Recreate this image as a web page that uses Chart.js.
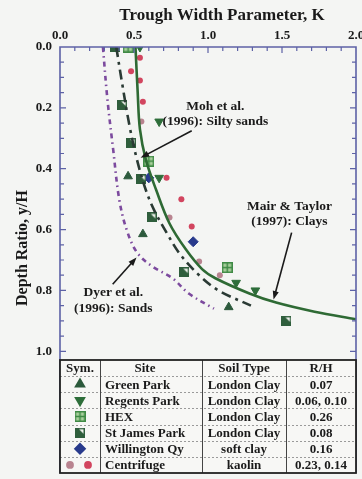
<!DOCTYPE html>
<html>
<head>
<meta charset="utf-8">
<script src="https://cdn.jsdelivr.net/npm/chart.js@4.4.1/dist/chart.umd.min.js"></script>
<style>
  html, body { margin: 0; padding: 0; background: #f4f5f3; }
  #wrap { width: 362px; height: 479px; }
</style>
</head>
<body>
<div id="wrap"><canvas id="myChart" width="362" height="479"></canvas></div>
<script>
// tick labels
const xTickLabels = ['0.0', '0.5', '1.0', '1.5', '2.0'];
const yTickLabels = ['0.0', '0.2', '0.4', '0.6', '0.8', '1.0'];

// curves: K and y/H
const mairK = [0.51, 0.525, 0.54, 0.58, 0.65, 0.74, 0.85, 0.96, 1.05, 1.28, 1.46, 1.72, 2.0];
const mairY = [0, 0.15, 0.27, 0.37, 0.47, 0.58, 0.665, 0.73, 0.76, 0.81, 0.84, 0.87, 0.895];
const mohK = [0.38, 0.42, 0.47, 0.52, 0.58, 0.64, 0.72, 0.81, 0.94, 1.07, 1.29];
const mohY = [0, 0.12, 0.26, 0.37, 0.47, 0.54, 0.61, 0.68, 0.75, 0.80, 0.85];
const dyerK = [0.29, 0.32, 0.36, 0.40, 0.45, 0.52, 0.62, 0.76, 0.87, 1.04];
const dyerY = [0, 0.17, 0.34, 0.50, 0.60, 0.675, 0.72, 0.76, 0.81, 0.86];

// field / centrifuge data
const greenParkK = [0.46, 0.56, 1.14];
const greenParkY = [0.425, 0.615, 0.855];
const regentsK = [0.54, 0.67, 0.67, 1.19, 1.32];
const regentsY = [0, 0.245, 0.43, 0.775, 0.80];
const hexK = [0.46, 0.60, 1.13];
const hexY = [0, 0.375, 0.725];
const stJamesK = [0.37, 0.42, 0.48, 0.55, 0.62, 0.84, 1.53];
const stJamesY = [0, 0.19, 0.315, 0.435, 0.56, 0.74, 0.90];
const willingtonK = [0.60, 0.90];
const willingtonY = [0.43, 0.64];
const centriAK = [0.54, 0.48, 0.54, 0.56, 0.72, 0.82, 0.89];
const centriAY = [0.035, 0.08, 0.11, 0.18, 0.43, 0.50, 0.59];
const centriBK = [0.55, 0.58, 0.74, 0.94, 1.08];
const centriBY = [0.245, 0.36, 0.56, 0.705, 0.75];

// table
const siteNames = ['Green Park', 'Regents Park', 'HEX', 'St James Park', 'Willington Qy', 'Centrifuge'];
const soilTypes = ['London Clay', 'London Clay', 'London Clay', 'London Clay', 'soft clay', 'kaolin'];
const rhValues = ['0.07', '0.06, 0.10', '0.26', '0.08', '0.16', '0.23, 0.14'];

const pts = (xs, ys) => xs.map((x, i) => ({x: x, y: ys[i]}));

function hexMarker() {
  const c = document.createElement('canvas');
  c.width = 11; c.height = 11;
  const g = c.getContext('2d');
  g.fillStyle = '#a9cf9c';
  g.fillRect(0, 0, 11, 11);
  g.strokeStyle = '#3f8a45';
  g.lineWidth = 1.5;
  g.strokeRect(0.75, 0.75, 9.5, 9.5);
  g.beginPath();
  g.moveTo(5.5, 1); g.lineTo(5.5, 10);
  g.moveTo(1, 5.5); g.lineTo(10, 5.5);
  g.stroke();
  return c;
}
function stJamesMarker() {
  const c = document.createElement('canvas');
  c.width = 10; c.height = 10;
  const g = c.getContext('2d');
  g.fillStyle = '#2f5e3c';
  g.fillRect(0, 0, 10, 10);
  g.fillStyle = '#f2f4ef';
  g.beginPath();
  g.moveTo(4, 1.5); g.lineTo(8.5, 1.5); g.lineTo(8.5, 6);
  g.closePath();
  g.fill();
  return c;
}
const hexImg = hexMarker();
const stJamesImg = stJamesMarker();

const serif = '"Liberation Serif", "DejaVu Serif", serif';

// frame, inward ticks, labels, arrows, table
const decor = {
  id: 'decor',
  beforeDraw(chart) {
    const ctx = chart.ctx;
    ctx.save();
    ctx.fillStyle = '#f4f5f3';
    ctx.fillRect(0, 0, chart.width, chart.height);
    ctx.restore();
  },
  afterDraw(chart) {
    const ctx = chart.ctx;
    const a = chart.chartArea;
    const xs = chart.scales.x, ys = chart.scales.y;
    ctx.save();

    // inward ticks
    ctx.strokeStyle = '#5d62a6';
    ctx.lineWidth = 1.2;
    ctx.beginPath();
    for (let i = 1; i < 28; i++) {
      const py = ys.getPixelForValue(i * 0.05);
      const len = (i % 4 === 0) ? 6 : 4;
      ctx.moveTo(a.left, py); ctx.lineTo(a.left + len, py);
      ctx.moveTo(a.right, py); ctx.lineTo(a.right - len, py);
    }
    for (let i = 1; i < 20; i++) {
      const px = xs.getPixelForValue(i * 0.1);
      const len = (i % 5 === 0) ? 6 : 4;
      ctx.moveTo(px, a.top); ctx.lineTo(px, a.top + len);
    }
    ctx.stroke();

    // frame
    ctx.lineWidth = 1.6;
    ctx.beginPath();
    ctx.moveTo(a.left, a.bottom); ctx.lineTo(a.left, a.top);
    ctx.lineTo(a.right, a.top); ctx.lineTo(a.right, a.bottom);
    ctx.stroke();

    // titles
    ctx.fillStyle = '#1a1a1a';
    ctx.font = 'bold 17px ' + serif;
    ctx.textAlign = 'center';
    ctx.textBaseline = 'middle';
    ctx.fillText('Trough Width Parameter, K', 222, 16);
    ctx.save();
    ctx.translate(23, 248);
    ctx.rotate(-Math.PI / 2);
    ctx.font = 'bold 16px ' + serif;
    ctx.fillText('Depth Ratio, y/H', 0, 0);
    ctx.restore();

    // annotations
    const P = (k, y) => [xs.getPixelForValue(k), ys.getPixelForValue(y)];
    ctx.font = 'bold 13.5px ' + serif;
    let p = P(1.05, 0.197); ctx.fillText('Moh et al.', p[0], p[1]);
    p = P(1.05, 0.246); ctx.fillText('(1996): Silty sands', p[0], p[1]);
    p = P(1.55, 0.525); ctx.fillText('Mair & Taylor', p[0], p[1]);
    p = P(1.55, 0.574); ctx.fillText('(1997): Clays', p[0], p[1]);
    p = P(0.36, 0.807); ctx.fillText('Dyer et al.', p[0], p[1]);
    p = P(0.36, 0.859); ctx.fillText('(1996): Sands', p[0], p[1]);

    function arrow(k1, y1, k2, y2) {
      const s = P(k1, y1), e = P(k2, y2);
      const ang = Math.atan2(e[1] - s[1], e[0] - s[0]);
      ctx.strokeStyle = '#1a1a1a';
      ctx.lineWidth = 1.6;
      ctx.beginPath();
      ctx.moveTo(s[0], s[1]);
      ctx.lineTo(e[0] - 5 * Math.cos(ang), e[1] - 5 * Math.sin(ang));
      ctx.stroke();
      ctx.fillStyle = '#1a1a1a';
      ctx.beginPath();
      ctx.moveTo(e[0], e[1]);
      ctx.lineTo(e[0] - 9 * Math.cos(ang - 0.35), e[1] - 9 * Math.sin(ang - 0.35));
      ctx.lineTo(e[0] - 9 * Math.cos(ang + 0.35), e[1] - 9 * Math.sin(ang + 0.35));
      ctx.closePath();
      ctx.fill();
    }
    arrow(0.89, 0.275, 0.545, 0.364);
    arrow(1.565, 0.61, 1.443, 0.83);
    arrow(0.356, 0.78, 0.517, 0.692);

    // table
    const top = a.bottom - 113;
    const rowH = (a.bottom - top) / 7;
    const cols = [a.left, 100, 202, 286, a.right];
    ctx.fillStyle = '#f7f7f5';
    ctx.fillRect(a.left, top, a.right - a.left, a.bottom - top);
    ctx.strokeStyle = '#9a9a9a';
    ctx.lineWidth = 1;
    ctx.setLineDash([2, 2]);
    ctx.beginPath();
    for (let r = 1; r < 7; r++) {
      const yy = Math.round(top + r * rowH) + 0.5;
      ctx.moveTo(a.left, yy); ctx.lineTo(a.right, yy);
    }
    ctx.stroke();
    ctx.setLineDash([]);
    ctx.strokeStyle = '#444';
    ctx.lineWidth = 1;
    ctx.beginPath();
    for (let c = 1; c < 4; c++) {
      ctx.moveTo(cols[c] + 0.5, top); ctx.lineTo(cols[c] + 0.5, a.bottom);
    }
    ctx.stroke();
    ctx.strokeStyle = '#222';
    ctx.lineWidth = 1.8;
    ctx.strokeRect(a.left, top, a.right - a.left, a.bottom - top);

    ctx.fillStyle = '#1a1a1a';
    ctx.font = 'bold 13px ' + serif;
    const hy = top + rowH / 2 + 1;
    ctx.textAlign = 'center';
    ctx.fillText('Sym.', (cols[0] + cols[1]) / 2, hy);
    ctx.fillText('Site', 145, hy);
    ctx.fillText('Soil Type', (cols[2] + cols[3]) / 2, hy);
    ctx.fillText('R/H', (cols[3] + cols[4]) / 2, hy);
    for (let r = 0; r < siteNames.length; r++) {
      const yy = top + (r + 1.5) * rowH + 1;
      ctx.textAlign = 'left';
      ctx.fillText(siteNames[r], cols[1] + 5, yy);
      ctx.textAlign = 'center';
      ctx.fillText(soilTypes[r], (cols[2] + cols[3]) / 2, yy);
      ctx.fillText(rhValues[r], (cols[3] + cols[4]) / 2, yy);
    }

    // symbols in table, same styles as the datasets
    const ds = chart.data.datasets;
    const symRows = [[3, 80], [4, 80], [5, 80], [6, 80], [7, 80], [9, 70], [8, 88]];
    symRows.forEach((sr, i) => {
      const d = ds[sr[0]];
      const row = Math.min(i, 5);
      const yy = top + (row + 1.5) * rowH;
      ctx.fillStyle = d.backgroundColor;
      ctx.strokeStyle = d.borderColor;
      Chart.helpers.drawPoint(ctx, {
        pointStyle: d.pointStyle, radius: d.pointRadius,
        rotation: d.rotation || 0, borderWidth: d.borderWidth || 1
      }, sr[1], yy);
    });

    ctx.restore();
  }
};

const ctx = document.getElementById('myChart').getContext('2d');
const myChart = new Chart(ctx, {
  type: 'scatter',
  data: {
    datasets: [
      { label: 'Mair & Taylor', data: pts(mairK, mairY), showLine: true, borderColor: '#2e6a34',
        borderWidth: 2.6, pointRadius: 0, tension: 0.35, fill: false },
      { label: 'Moh et al.', data: pts(mohK, mohY), showLine: true, borderColor: '#2a3a34',
        borderWidth: 2.6, borderDash: [10, 5, 3, 5], pointRadius: 0, tension: 0.35, fill: false },
      { label: 'Dyer et al.', data: pts(dyerK, dyerY), showLine: true, borderColor: '#7c4a9e',
        borderWidth: 2.6, borderDash: [5, 4, 1.5, 4], pointRadius: 0, tension: 0.35, fill: false },
      { label: 'Green Park', data: pts(greenParkK, greenParkY), pointStyle: 'triangle', pointRadius: 5,
        backgroundColor: '#2c5a3c', borderColor: '#2c5a3c', borderWidth: 1 },
      { label: 'Regents Park', data: pts(regentsK, regentsY), pointStyle: 'triangle', rotation: 180,
        pointRadius: 5, backgroundColor: '#2e6e3a', borderColor: '#2e6e3a', borderWidth: 1 },
      { label: 'HEX', data: pts(hexK, hexY), pointStyle: hexImg, pointRadius: 5,
        backgroundColor: '#a9cf9c', borderColor: '#3f8a45' },
      { label: 'St James Park', data: pts(stJamesK, stJamesY), pointStyle: stJamesImg, pointRadius: 5,
        backgroundColor: '#2f5e3c', borderColor: '#2f5e3c' },
      { label: 'Willington Qy', data: pts(willingtonK, willingtonY), pointStyle: 'rectRot', pointRadius: 5,
        backgroundColor: '#283a8c', borderColor: '#283a8c', borderWidth: 1 },
      { label: 'Centrifuge', data: pts(centriAK, centriAY), pointStyle: 'circle', pointRadius: 3,
        backgroundColor: '#d2455f', borderColor: '#d2455f', borderWidth: 0 },
      { label: 'Centrifuge 2', data: pts(centriBK, centriBY), pointStyle: 'circle', pointRadius: 3,
        backgroundColor: '#b98490', borderColor: '#b98490', borderWidth: 0 }
    ]
  },
  options: {
    responsive: false,
    animation: false,
    layout: { padding: { left: 0, top: 0, right: 4, bottom: 5 } },
    plugins: { legend: { display: false }, tooltip: { enabled: false } },
    scales: {
      x: {
        type: 'linear', position: 'top', min: 0, max: 2,
        grid: { display: false, drawTicks: false },
        border: { display: false },
        afterBuildTicks: s => { s.ticks = xTickLabels.map(t => ({value: parseFloat(t)})); },
        afterFit: s => { s.height = 47; s.paddingLeft = 0; s.paddingRight = 0; },
        ticks: {
          padding: 4, color: '#1a1a1a', font: { family: serif, size: 13, weight: 'bold' },
          maxRotation: 0, autoSkip: false,
          callback: v => xTickLabels.find(t => parseFloat(t) === v) || ''
        }
      },
      y: {
        type: 'linear', reverse: true, min: 0, max: 1.4,
        grid: { display: false, drawTicks: false },
        border: { display: false },
        afterBuildTicks: s => { s.ticks = yTickLabels.map(t => ({value: parseFloat(t)})); },
        afterFit: s => { s.width = 60; s.paddingTop = 0; s.paddingBottom = 0; },
        ticks: {
          padding: 8, color: '#1a1a1a', font: { family: serif, size: 13, weight: 'bold' },
          autoSkip: false,
          callback: v => yTickLabels.find(t => parseFloat(t) === v) || ''
        }
      }
    }
  },
  plugins: [decor]
});
</script>
</body>
</html>
